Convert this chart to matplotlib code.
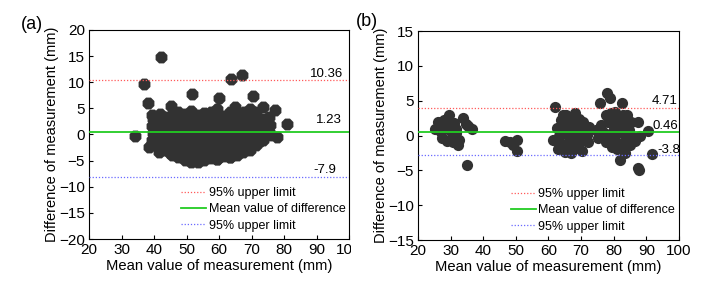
import matplotlib
matplotlib.use("Agg")
import matplotlib.pyplot as plt
from matplotlib.transforms import Bbox, TransformedBbox

plt.rcParams['font.family'] = ['Liberation Sans', 'DejaVu Sans']

# --- Panel (a) data: mean of measurement vs difference ---
a_mean = [
    42.2, 37.0, 38.1, 51.6, 60.0, 63.6, 67.0, 70.3, 73.4, 77.2, 80.8, 34.2,
    77.8, 75.7, 45.2, 59.4, 65.0, 38.4, 41.4, 44.9, 59.4, 68.6, 72.6, 63.4,
    39.3, 39.7, 39.4, 39.8, 39.5,
    41.3, 41.7, 41.4, 41.6, 41.3, 41.8,
    43.4, 43.7, 43.3, 43.6, 43.5, 43.8,
    45.4, 45.7, 45.3, 45.6, 45.5, 45.8, 45.4,
    47.3, 47.6, 47.4, 47.7, 47.5, 47.3, 47.8, 47.5,
    49.4, 49.7, 49.3, 49.6, 49.5, 49.8, 49.4, 49.6,
    51.3, 51.6, 51.4, 51.7, 51.5, 51.3, 51.8, 51.5, 51.4,
    53.4, 53.7, 53.3, 53.6, 53.5, 53.8, 53.4, 53.6,
    55.3, 55.6, 55.4, 55.7, 55.5, 55.3, 55.8, 55.5,
    57.4, 57.7, 57.3, 57.6, 57.5, 57.8, 57.4, 57.6,
    59.3, 59.6, 59.4, 59.7, 59.5, 59.3, 59.8, 59.5,
    61.4, 61.7, 61.3, 61.6, 61.5, 61.8, 61.4,
    63.3, 63.6, 63.4, 63.7, 63.5, 63.3, 63.8, 63.5,
    65.4, 65.7, 65.3, 65.6, 65.5, 65.8, 65.4,
    67.3, 67.6, 67.4, 67.7, 67.5, 67.3, 67.8,
    69.4, 69.7, 69.3, 69.6, 69.5, 69.8, 69.4,
    71.3, 71.6, 71.4, 71.7, 71.5, 71.3,
    73.4, 73.7, 73.3, 73.6,
    75.3, 75.6, 75.4,
]
a_diff = [
    14.8, 9.6, 6.1, 7.8, 6.9, 10.6, 11.3, 7.4, 5.2, 4.7, 2.0, -0.2,
    -0.4, -0.1, 5.4, 4.9, 5.2, -2.4, -3.4, -3.5, -4.6, -2.7, -1.2, -4.4,
    -1.0, 0.3, 1.6, 2.9, 3.8,
    -2.2, -0.8, 0.5, 1.8, 3.1, 4.0,
    -3.0, -1.7, -0.4, 0.9, 2.2, 3.4,
    -4.0, -2.6, -1.3, 0.0, 1.3, 2.6, 3.8,
    -4.3, -3.0, -1.8, -0.5, 0.8, 2.0, 3.3, 4.3,
    -4.9, -3.6, -2.3, -1.0, 0.3, 1.6, 2.8, 3.9,
    -5.3, -4.0, -2.7, -1.4, -0.1, 1.2, 2.4, 3.6, 4.5,
    -5.2, -3.9, -2.6, -1.3, 0.0, 1.3, 2.6, 3.8,
    -4.8, -3.5, -2.2, -0.9, 0.4, 1.7, 3.0, 4.2,
    -4.5, -3.2, -1.9, -0.6, 0.7, 2.0, 3.2, 4.4,
    -4.6, -3.3, -2.0, -0.7, 0.6, 1.9, 3.1, 4.0,
    -4.2, -2.9, -1.6, -0.3, 1.0, 2.3, 3.5,
    -4.4, -3.1, -1.8, -0.5, 0.8, 2.1, 3.3, 4.4,
    -3.9, -2.6, -1.3, 0.0, 1.3, 2.6, 3.8,
    -3.3, -2.0, -0.7, 0.6, 1.9, 3.2, 4.4,
    -2.9, -1.6, -0.3, 1.0, 2.3, 3.6, 4.8,
    -2.0, -0.7, 0.6, 1.9, 3.2, 4.3,
    -1.0, 0.3, 1.6, 2.9,
    0.5, 1.8, 3.3,
]
a_lines = [10.36, 0.5, -8.1]          # drawn line levels (upper, mean, lower)
a_labels = ['10.36', '1.23', '-7.9']
a_label_x = [88.0, 89.8, 88.9]
a_label_y = [11.6, 2.7, -6.7]

# --- Panel (b) data ---
b_mean = [
    25.3, 26.2, 27.0, 27.5, 28.3, 28.8, 29.6, 29.8, 30.3, 30.8, 31.0, 31.5,
    32.2, 32.5, 33.8, 34.6, 35.3, 36.5, 35.0, 26.5, 28.0, 31.8,
    46.7, 48.2, 50.3, 50.3, 49.0,
    62.0, 61.5, 62.6, 63.2, 63.8, 64.0, 64.5, 65.0, 65.3, 65.5, 66.0, 66.3,
    66.8, 67.0, 67.4, 67.8, 68.1, 68.4, 68.6, 69.0, 69.3, 69.7, 70.0, 70.4,
    70.6, 71.0, 71.3, 71.8, 72.1, 72.5, 63.0, 64.3, 66.5,
    78.0, 78.9, 75.8, 82.5, 80.5, 77.5, 76.0, 74.5, 75.2, 76.8, 77.5, 78.2,
    78.8, 79.2, 79.5, 80.0, 80.3, 80.8, 81.0, 81.5, 81.9, 82.0, 82.3, 82.8,
    83.0, 83.5, 83.8, 84.2, 84.6, 85.0, 85.3, 85.8, 86.5, 87.4, 88.1, 87.5,
    87.8, 90.5, 91.7, 83.3, 84.0,
]
b_diff = [
    0.9, 2.0, 0.5, -0.4, 1.6, -0.8, 3.0, 0.8, -0.2, -1.0, 1.8, 0.3,
    -1.4, -0.6, 2.5, 1.6, 1.3, 0.9, -4.2, 1.3, 2.2, 1.0,
    -0.8, -1.0, -0.6, -2.2, -1.3,
    4.1, -0.7, 1.1, 0.0, 2.2, -1.2, 1.0, -2.3, 3.0, 0.2, 1.8, -1.0,
    -2.5, 2.6, 0.7, -0.5, 3.3, 1.6, -1.8, 0.0, 2.4, -1.0, 1.0, -2.2,
    2.0, 0.4, -0.6, 0.1, -0.9, 1.2, -2.0, 3.0, -1.8,
    6.1, 5.4, 4.7, 4.7, 3.4, 3.0, 1.5, 0.8, -0.3, 0.5, -1.0, 2.0,
    0.2, 3.3, -1.7, 1.2, -0.6, 2.5, -2.0, 0.6, -3.5, 1.8, -1.2, 3.0,
    0.2, -1.8, 1.5, -0.5, 0.8, -1.3, 2.0, -0.2, -0.8, 1.9, -0.1, -4.6,
    -4.9, 0.6, -2.7, -2.5, 3.0,
]
b_lines = [4.0, 0.57, -2.86]
b_labels = ['4.71', '0.46', '-3.8']
b_label_x = [91.7, 91.9, 93.3]
b_label_y = [4.9, 1.4, -2.1]

legend_names = ['95% upper limit', 'Mean value of difference', '95% upper limit']
PT_COLOR = '#323232'


def draw_panel(ax, x, y, lines, labels, lx, ly, ylim, yticks, marker, size):
    ax.scatter(x, y, s=size, marker=marker, color=PT_COLOR, linewidths=0, zorder=2)
    ax.axhline(lines[0], color='#ff5a5a', ls=(0, (1, 1.5)), lw=0.9, label=legend_names[0], zorder=3)
    ax.axhline(lines[1], color='#22cc22', ls='-', lw=1.3, label=legend_names[1], zorder=3)
    ax.axhline(lines[2], color='#6a6aff', ls=(0, (1, 1.5)), lw=0.9, label=legend_names[2], zorder=3)
    for t, tx, ty in zip(labels, lx, ly):
        ax.text(tx, ty, t, fontsize=9.5, ha='left', va='center')
    ax.set_xlim(20, 100)
    ax.set_ylim(*ylim)
    ax.set_xticks(range(20, 101, 10))
    ax.set_yticks(yticks)
    ax.tick_params(direction='in', length=3, width=0.8, labelsize=11, pad=3)
    for s in ax.spines.values():
        s.set_linewidth(0.8)
    ax.set_xlabel('Mean value of measurement (mm)', fontsize=10.6, labelpad=1)
    ax.set_ylabel('Difference of measurement (mm)', fontsize=10.5, labelpad=0)
    ax.legend(loc='lower left', bbox_to_anchor=(0.355, 0.035), frameon=False,
              fontsize=9, handlelength=2.0, handletextpad=0.2,
              labelspacing=0.35, borderpad=0, borderaxespad=0)


fig = plt.figure(figsize=(7.07, 2.92), dpi=100)
ax1 = fig.add_axes([0.1259, 0.1815, 0.3678, 0.7158])
ax2 = fig.add_axes([0.5912, 0.178, 0.3692, 0.7158])

draw_panel(ax1, a_mean, a_diff, a_lines, a_labels, a_label_x, a_label_y,
           (-20, 20), range(-20, 21, 5), '8', 85)
draw_panel(ax2, b_mean, b_diff, b_lines, b_labels, b_label_x, b_label_y,
           (-15, 15), range(-15, 16, 5), 'o', 65)

# the "100" of panel (a) is cut off at the panel edge in the original
clip = TransformedBbox(Bbox([[0, 0], [351 / 707, 1]]), fig.transFigure)
last = ax1.get_xticklabels()[-1]
last.set_clip_box(clip)
last.set_clip_on(True)

fig.text(0.030, 0.915, '(a)', fontsize=13, va='center', ha='left')
fig.text(0.503, 0.925, '(b)', fontsize=13, va='center', ha='left')

plt.savefig('out.png', dpi=100)
